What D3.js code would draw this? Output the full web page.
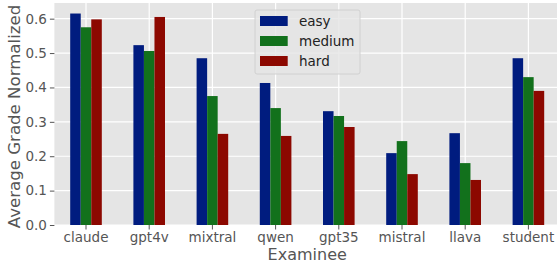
<!DOCTYPE html>
<html lang="en">
<head>
<meta charset="UTF-8">
<title>Average Grade Normalized by Examinee</title>
<script src="https://d3js.org/d3.v7.min.js"></script>
<style>
    body { margin: 0; background: #fff; font-family: "DejaVu Sans", sans-serif; }
    svg { display: block; }
    text { font-family: "DejaVu Sans", sans-serif; }
    .tick text { fill: #555; font-size: 13.5px; font-family: "DejaVu Sans", sans-serif; }
    .tick line { stroke: #555; }
    .domain { display: none; }
</style>
</head>
<body>
<svg id="chart" width="557" height="269"></svg>
<script>
var examinees = ["claude", "gpt4v", "mixtral", "qwen", "gpt35", "mistral", "llava", "student"];
var levels = ["easy", "medium", "hard"];
var easy   = [0.615, 0.523, 0.485, 0.413, 0.331, 0.209, 0.267, 0.485];
var medium = [0.575, 0.506, 0.375, 0.340, 0.317, 0.244, 0.180, 0.430];
var hard   = [0.598, 0.605, 0.265, 0.259, 0.285, 0.148, 0.131, 0.390];
var yTicks = [0.0, 0.1, 0.2, 0.3, 0.4, 0.5, 0.6];
var colors = ["#001c7f", "#12711c", "#8c0800"];

var series = [easy, medium, hard];

var margin = {top: 3, left: 54.4},
    plotW = 505.6,
    plotH = 222;

var svg = d3.select("#chart");
var g = svg.append("g")
    .attr("transform", "translate(" + margin.left + "," + margin.top + ")");

var x = d3.scaleBand().domain(examinees).range([0, plotW]);
var inner = d3.scaleBand().domain(levels).range([0, x.bandwidth() * 0.5]);
var y = d3.scaleLinear().domain([0, 0.6456]).range([plotH, 0]);

g.append("rect")
    .attr("width", plotW)
    .attr("height", plotH)
    .attr("fill", "#e5e5e5");

// grid
g.selectAll(".hgrid")
    .data(yTicks)
  .enter().append("line")
    .attr("x1", 0).attr("x2", plotW)
    .attr("y1", function(d) { return y(d); })
    .attr("y2", function(d) { return y(d); })
    .attr("stroke", "#fff").attr("stroke-width", 1.2);
g.selectAll(".vgrid")
    .data(examinees)
  .enter().append("line")
    .attr("x1", function(d) { return x(d) + x.bandwidth() / 2; })
    .attr("x2", function(d) { return x(d) + x.bandwidth() / 2; })
    .attr("y1", 0).attr("y2", plotH)
    .attr("stroke", "#fff").attr("stroke-width", 1.2);

// bars
series.forEach(function(vals, si) {
    g.selectAll(".bar" + si)
        .data(vals)
      .enter().append("rect")
        .attr("x", function(d, i) { return x(examinees[i]) + x.bandwidth() * 0.25 + inner(levels[si]); })
        .attr("width", inner.bandwidth())
        .attr("y", function(d) { return y(d); })
        .attr("height", function(d) { return plotH - y(d); })
        .attr("fill", colors[si]);
});

// axes
g.append("g")
    .attr("transform", "translate(0," + plotH + ")")
    .call(d3.axisBottom(x).tickSize(4.5).tickPadding(3));
g.append("g")
    .call(d3.axisLeft(y).tickValues(yTicks).tickFormat(d3.format(".1f")).tickSize(4.5).tickPadding(3));

g.append("text")
    .attr("x", plotW / 2)
    .attr("y", 257)
    .attr("text-anchor", "middle")
    .attr("fill", "#555")
    .style("font-size", "16px")
    .text("Examinee");

g.append("text")
    .attr("transform", "rotate(-90)")
    .attr("x", -113.5)
    .attr("y", -34.4)
    .attr("text-anchor", "middle")
    .attr("fill", "#555")
    .style("font-size", "16.6px")
    .text("Average Grade Normalized");

// legend
var legend = svg.append("g").attr("transform", "translate(255,10)");
legend.append("rect")
    .attr("width", 105).attr("height", 64).attr("rx", 2)
    .attr("fill", "#e5e5e5").attr("fill-opacity", 0.8)
    .attr("stroke", "#d0d0d0");
levels.forEach(function(l, i) {
    legend.append("rect")
        .attr("x", 5).attr("y", 6 + i * 20)
        .attr("width", 27.7).attr("height", 10)
        .attr("fill", colors[i]);
    legend.append("text")
        .attr("x", 44).attr("y", 16 + i * 20)
        .attr("fill", "#222")
        .style("font-size", "13.5px")
        .text(l);
});
</script>
</body>
</html>
